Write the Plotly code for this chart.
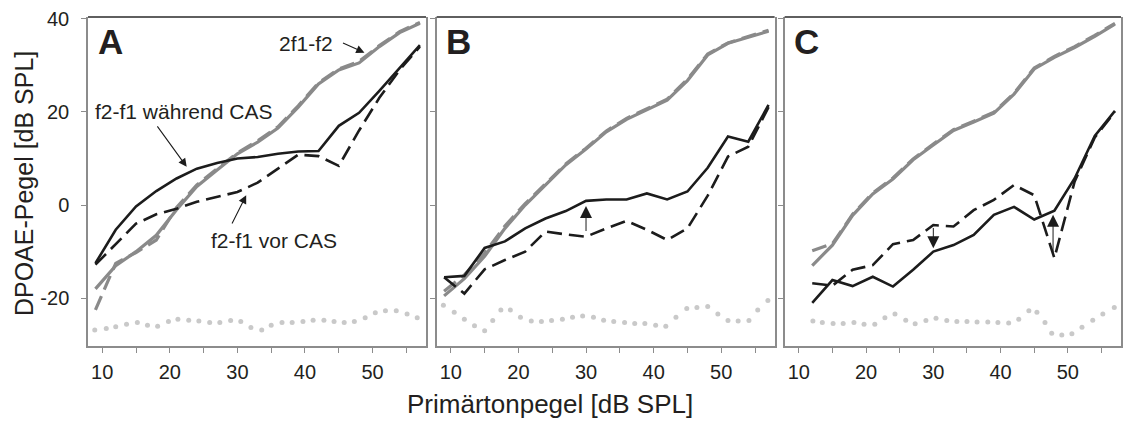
import plotly.graph_objects as go

# ---------------- data ----------------
levels_AB = [9, 12, 15, 18, 21, 24, 27, 30, 33, 36, 39, 42, 45, 48, 51, 54, 57]
levels_C = [12, 15, 18, 21, 24, 27, 30, 33, 36, 39, 42, 45, 48, 51, 54, 57]

# Panel A
A_dp_cas = [-18, -13, -10, -6.5, -1, 4, 7.5, 11, 13.5, 16.5, 21, 26, 29, 30.5, 34, 37, 39]
A_dp_pre = [-22.5, -12.5, -10.2, -7.5, -0.5, 4.3, 7.8, 11.2, 13.8, 16.8, 21.3, 26.2, 29.2, 30.8, 34.2, 37.2, 39.2]
A_qdp_cas = [-12.5, -5.3, -0.3, 3, 5.7, 7.8, 9, 10, 10.3, 11, 11.5, 11.6, 17, 19.8, 24.5, 29.5, 34.3]
A_qdp_pre = [-12.8, -8.3, -4, -2, -0.8, 0.7, 1.8, 2.8, 4.8, 7.8, 10.8, 10.5, 8.4, 16, 23, 29, 34]

# Panel B
B_dp_cas = [-19.5, -15.8, -11, -5, 0, 4.3, 8.6, 12, 15.7, 18.4, 20.5, 22.5, 26.7, 32.2, 34.7, 36, 37.3]
B_dp_pre = [-18.5, -15, -10.3, -4.5, 0.3, 4.6, 8.8, 12.2, 15.9, 18.6, 20.7, 22.7, 27, 32.4, 34.8, 36.1, 37.5]
B_qdp_cas = [-15.5, -15.2, -9.2, -7.8, -5, -2.9, -1.3, 0.9, 1.2, 1.2, 2.5, 1.2, 2.9, 8, 14.7, 13.6, 21.5]
B_qdp_pre = [-15.5, -19, -13.8, -11.8, -10, -5.7, -6.3, -6.8, -5, -3.4, -5.3, -7.5, -5, 2, 10.4, 12.5, 21]

# Panel C
C_dp_cas = [-13, -8.6, -2.2, 2.4, 5.6, 9.7, 12.9, 16, 17.8, 19.7, 23.8, 29.2, 31.7, 33.8, 36.2, 38.8]
C_dp_pre = [-9.8, -8.3, -2, 2.6, 5.8, 9.9, 13.1, 16.2, 18, 19.9, 24, 29.4, 31.9, 34, 36.4, 39]
C_qdp_cas = [-21, -16.1, -17.4, -15.4, -17.5, -13.9, -10, -8.6, -6.4, -2.1, -0.4, -3.1, -1.2, 5.7, 14.8, 20.2]
C_qdp_pre = [-16.8, -17.3, -13.9, -12.9, -8.4, -7.5, -4.3, -4.6, -1.1, 1.1, 4.3, 2.1, -11.4, 5, 14.5, 20]

# Noise floor (dotted)
A_nf_x = [8.9, 10.6, 12.0, 13.6, 15.2, 16.7, 18.2, 19.8, 21.2, 22.8, 24.3, 25.9, 27.4, 29.0, 30.5, 32.0,
          33.6, 35.0, 36.6, 38.1, 39.7, 41.2, 42.8, 44.3, 45.8, 47.3, 48.9, 50.4, 51.9, 53.5, 55.1, 56.6]
A_nf_y = [-26.8, -26.5, -26.1, -25.6, -25.2, -25.8, -26.0, -25.0, -24.5, -24.7, -24.9, -25.2, -25.2, -24.8, -25.0, -26.3,
          -26.8, -25.8, -25.2, -25.2, -25.0, -24.7, -24.7, -25.0, -25.2, -25.0, -24.2, -23.1, -22.7, -22.7, -23.4, -24.2]
B_nf_x = [8.9, 10.5, 12.0, 13.5, 15.0, 16.2, 17.4, 18.8, 20.3, 21.9, 23.4, 24.9, 26.5, 28.0, 29.5, 31.1, 32.6,
          34.1, 35.7, 37.2, 38.7, 40.3, 41.8, 43.3, 44.9, 46.4, 48.0, 49.5, 51.0, 52.5, 54.1, 55.4, 56.9]
B_nf_y = [-21.5, -23.0, -24.5, -25.9, -27.0, -24.8, -22.5, -22.5, -24.1, -24.9, -25.0, -24.8, -24.5, -24.1, -23.8, -24.1, -24.7,
          -25.0, -25.2, -25.4, -25.4, -25.8, -26.0, -24.1, -22.2, -22.0, -21.8, -23.4, -24.8, -24.9, -24.8, -22.5, -20.5]
C_nf_x = [12.1, 13.5, 15.1, 16.6, 18.2, 19.7, 21.3, 22.8, 24.3, 25.9, 27.3, 28.9, 30.4, 32.0, 33.5, 35.0,
          36.5, 38.1, 39.6, 41.2, 42.7, 44.2, 45.4, 46.6, 47.6, 49.1, 50.6, 52.1, 53.7, 55.2, 56.9]
C_nf_y = [-24.9, -25.2, -25.4, -25.4, -25.2, -25.6, -25.6, -24.2, -23.4, -24.7, -25.5, -24.8, -24.3, -24.8, -25.0, -25.0,
          -25.1, -25.1, -25.2, -25.3, -24.5, -22.7, -23.0, -25.2, -27.5, -27.9, -27.6, -26.2, -24.7, -23.4, -22.0]

x_tickvals = [10, 15, 20, 25, 30, 35, 40, 45, 50, 55]
x_ticktext = ["10", "", "20", "", "30", "", "40", "", "50", ""]
y_tickvals = [-20, 0, 20, 40]
y_ticktext = ["-20", "0", "20", "40"]
panel_letters = ["A", "B", "C"]

# ---------------- styling ----------------
FONT = "Liberation Sans, Arial, Helvetica, sans-serif"
TXT = "#231f20"
BLACK = "#1c1c1c"
GRAY = "#8a8a8a"
DOTC = "#c9c9c9"
AXC = "#8c8c8c"

panels = [
    (levels_AB, A_dp_cas, A_dp_pre, A_qdp_cas, A_qdp_pre, A_nf_x, A_nf_y),
    (levels_AB, B_dp_cas, B_dp_pre, B_qdp_cas, B_qdp_pre, B_nf_x, B_nf_y),
    (levels_C, C_dp_cas, C_dp_pre, C_qdp_cas, C_qdp_pre, C_nf_x, C_nf_y),
]
domains = [[0.0, 0.3272], [0.3375, 0.6647], [0.6744, 1.0]]

fig = go.Figure()
for i, (lv, dpc, dpp, qc, qp, nx, ny) in enumerate(panels):
    xa = "x" if i == 0 else f"x{i+1}"
    ya = "y" if i == 0 else f"y{i+1}"
    fig.add_trace(go.Scatter(x=nx, y=ny, mode="markers", xaxis=xa, yaxis=ya,
                             marker=dict(size=5, color=DOTC), showlegend=False, hoverinfo="skip"))
    fig.add_trace(go.Scatter(x=lv, y=dpp, mode="lines", xaxis=xa, yaxis=ya,
                             line=dict(color=GRAY, width=3.2, dash="15px,7px"), showlegend=False))
    fig.add_trace(go.Scatter(x=lv, y=dpc, mode="lines", xaxis=xa, yaxis=ya,
                             line=dict(color=GRAY, width=3.2), showlegend=False))
    fig.add_trace(go.Scatter(x=lv, y=qp, mode="lines", xaxis=xa, yaxis=ya,
                             line=dict(color=BLACK, width=2.6, dash="15px,7px"), showlegend=False))
    fig.add_trace(go.Scatter(x=lv, y=qc, mode="lines", xaxis=xa, yaxis=ya,
                             line=dict(color=BLACK, width=2.6), showlegend=False))

layout = dict(
    width=1125, height=421,
    margin=dict(l=88, r=2, t=17, b=75),
    paper_bgcolor="white", plot_bgcolor="white",
    font=dict(family=FONT, color=TXT, size=20),
    showlegend=False,
)
for i in range(3):
    xk = "xaxis" if i == 0 else f"xaxis{i+1}"
    yk = "yaxis" if i == 0 else f"yaxis{i+1}"
    ya = "y" if i == 0 else f"y{i+1}"
    xa = "x" if i == 0 else f"x{i+1}"
    layout[xk] = dict(domain=domains[i], range=[7.9, 57.9], anchor=ya,
                      showline=True, linecolor=AXC, linewidth=1.5, mirror=False,
                      ticks="outside", ticklen=5, tickcolor=AXC, tickwidth=1.2,
                      tickvals=x_tickvals, ticktext=x_ticktext,
                      tickfont=dict(size=20, color=TXT), ticklabelstandoff=2,
                      showgrid=False, zeroline=False)
    layout[yk] = dict(domain=[0, 1], range=[-30.25, 40.35], anchor=xa,
                      showline=True, linecolor=AXC, linewidth=1.5, mirror=True,
                      ticks="outside", ticklen=5, tickcolor=AXC, tickwidth=1.2,
                      tickvals=y_tickvals, ticktext=y_ticktext,
                      showticklabels=(i == 0),
                      tickfont=dict(size=20, color=TXT), ticklabelstandoff=8,
                      showgrid=False, zeroline=False)
fig.update_layout(**layout)

shapes = []
annotations = []
for i in range(3):
    xa = "x" if i == 0 else f"x{i+1}"
    ya = "y" if i == 0 else f"y{i+1}"
    shapes.append(dict(type="line", xref=f"{xa} domain", yref=f"{ya} domain",
                       x0=0, x1=1, y0=1, y1=1, line=dict(color="#2a2a2a", width=1.6)))
    annotations.append(dict(text=f"<b>{panel_letters[i]}</b>", x=11.2, y=35.2, xref=xa, yref=ya,
                            xanchor="center", yanchor="middle", showarrow=False,
                            font=dict(size=35, color=TXT, family=FONT)))

# text labels with arrows (panel A)
annotations += [
    dict(text="2f1-f2", x=40.1, y=34.7, xref="x", yref="y", showarrow=False,
         font=dict(size=21, color=TXT)),
    dict(text="", x=48.8, y=32.7, ax=45.4, ay=34.9, xref="x", yref="y", axref="x", ayref="y",
         showarrow=True, arrowhead=2, arrowsize=1.5, arrowwidth=1.1, arrowcolor=BLACK, standoff=0),
    dict(text="f2-f1 während CAS", x=22.1, y=20.1, xref="x", yref="y", showarrow=False,
         font=dict(size=21, color=TXT)),
    dict(text="", x=22.5, y=8.2, ax=18.0, ay=17.2, xref="x", yref="y", axref="x", ayref="y",
         showarrow=True, arrowhead=2, arrowsize=1.5, arrowwidth=1.1, arrowcolor=BLACK, standoff=0),
    dict(text="f2-f1 vor CAS", x=35.4, y=-7.7, xref="x", yref="y", showarrow=False,
         font=dict(size=21, color=TXT)),
    dict(text="", x=31.3, y=2.1, ax=29.1, ay=-4.3, xref="x", yref="y", axref="x", ayref="y",
         showarrow=True, arrowhead=2, arrowsize=1.5, arrowwidth=1.1, arrowcolor=BLACK, standoff=0),
    # panel B
    dict(text="", x=30, y=-0.2, ax=30, ay=-5.9, xref="x2", yref="y2", axref="x2", ayref="y2",
         showarrow=True, arrowhead=2, arrowsize=2.4, arrowwidth=1, arrowcolor=BLACK, standoff=0),
    # panel C
    dict(text="", x=30, y=-9.3, ax=30, ay=-4.6, xref="x3", yref="y3", axref="x3", ayref="y3",
         showarrow=True, arrowhead=2, arrowsize=2.4, arrowwidth=1, arrowcolor=BLACK, standoff=0),
    dict(text="", x=47.8, y=-2.1, ax=47.8, ay=-10.7, xref="x3", yref="y3", axref="x3", ayref="y3",
         showarrow=True, arrowhead=2, arrowsize=2.4, arrowwidth=1, arrowcolor=BLACK, standoff=0),
    # axis titles
    dict(text="DPOAE-Pegel [dB SPL]", x=-0.062, y=0.495, xref="paper", yref="paper",
         textangle=-90, showarrow=False, xanchor="center", yanchor="middle",
         font=dict(size=25, color=TXT)),
    dict(text="Primärtonpegel [dB SPL]", x=0.447, y=-0.176, xref="paper", yref="paper",
         showarrow=False, xanchor="center", yanchor="middle",
         font=dict(size=26, color=TXT)),
]
fig.update_layout(shapes=shapes, annotations=annotations)
fig.write_html("out.html")
